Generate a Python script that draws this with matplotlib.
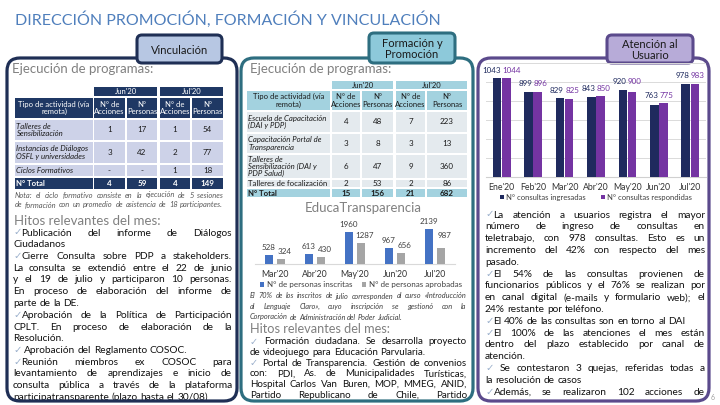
import matplotlib
matplotlib.use('Agg')
import matplotlib.pyplot as plt
from matplotlib.patches import FancyBboxPatch, Rectangle
import numpy as np

plt.rcParams['font.family'] = ['Lato', 'DejaVu Sans']

# ---- data ----
meses_usuario = ["Ene'20", "Feb'20", "Mar'20", "Abr'20", "May'20", "Jun'20", "Jul'20"]
consultas_ingresadas = [1043, 899, 829, 843, 920, 763, 978]
consultas_respondidas = [1044, 896, 825, 850, 900, 775, 983]

meses_educa = ["Mar'20", "Abr'20", "May'20", "Jun'20", "Jul'20"]
personas_inscritas = [528, 613, 1960, 967, 2139]
personas_aprobadas = [324, 430, 1287, 656, 987]

tabla_cols = ["N° de\nAcciones", "N°\nPersonas", "N° de\nAcciones", "N°\nPersonas"]

vinc_tipos = ["Talleres de\nSensibilización", "Instancias de Diálogos\nOSFL y universidades",
              "Ciclos Formativos", "N° Total"]
vinc_jun_acc = ["1", "3", "-", "4"]
vinc_jun_per = ["17", "42", "-", "59"]
vinc_jul_acc = ["1", "2", "1", "4"]
vinc_jul_per = ["54", "77", "18", "149"]

form_tipos = ["Escuela de Capacitación\n(DAI y PDP)", "Capacitación Portal de\nTransparencia",
              "Talleres de\nSensibilización (DAI y\nPDP Salud)", "Talleres de focalización", "N° Total"]
form_jun_acc = ["4", "3", "6", "2", "15"]
form_jun_per = ["48", "8", "47", "53", "156"]
form_jul_acc = ["7", "3", "9", "2", "21"]
form_jul_per = ["223", "13", "360", "86", "682"]

# colours
NAVY = '#1F2F55'
TEAL = '#2E6E80'
PURPLE = '#5B4A8C'
GRAY_T = '#808080'

fig = plt.figure(figsize=(7.2, 4.05), dpi=100)
ax = fig.add_axes([0, 0, 1, 1])
ax.set_xlim(0, 720)
ax.set_ylim(405, 0)
ax.axis('off')
renderer = fig.canvas.get_renderer()


def px_axes(x0, y0, x1, y1):
    return fig.add_axes([x0 / 720, 1 - y1 / 405, (x1 - x0) / 720, (y1 - y0) / 405])


def text_width(s, **kw):
    t = ax.text(0, 0, s, **kw)
    w = t.get_window_extent(renderer).width
    t.remove()
    return w


def paragraph(lines, x0, x1, y, dy, clip=None, justify_last=False, **kw):
    space = text_width('a a', **kw) - text_width('aa', **kw)
    for i, line in enumerate(lines):
        words = line.split(' ')
        widths = [text_width(w, **kw) for w in words]
        last = (i == len(lines) - 1) and not justify_last
        if last or len(words) == 1:
            gap = space
        else:
            gap = max((x1 - x0 - sum(widths)) / (len(words) - 1), space * 0.3)
        x = x0
        for w, wd in zip(words, widths):
            if w.startswith('✓'):
                t = ax.text(x, y, '✓', va='center', ha='left', zorder=2,
                            **{**kw, 'color': '#9AAFCB'})
                cw = text_width('✓', **kw)
                if clip is not None:
                    t.set_clip_path(clip)
                t2 = ax.text(x + cw, y, w[1:], va='center', ha='left', zorder=2, **kw)
            else:
                t2 = ax.text(x, y, w, va='center', ha='left', zorder=2, **kw)
            if clip is not None:
                t2.set_clip_path(clip)
            x += wd + gap
        y += dy
    return y


# ---- title ----
ax.text(15, 20, "DIRECCIÓN PROMOCIÓN, FORMACIÓN Y VINCULACIÓN", fontsize=11.5,
        color='#4F7FBC', va='center', ha='left')

# ---- panels ----
panels = {}
for key, (x0, x1, col) in {'v': (7, 237, NAVY), 'f': (241, 473, TEAL), 'u': (478, 709, PURPLE)}.items():
    fill = FancyBboxPatch((x0, 58), x1 - x0, 343, boxstyle="round,pad=0,rounding_size=13",
                          fc='white', ec='none', zorder=0)
    ax.add_patch(fill)
    ax.add_patch(FancyBboxPatch((x0, 58), x1 - x0, 343, boxstyle="round,pad=0,rounding_size=13",
                                fc='none', ec=col, lw=2.3, zorder=5))
    panels[key] = fill

tabs = [(137, 35, 85, 28, '#B7C7E3', NAVY, "Vinculación"),
        (369, 33, 86, 30, '#8DC9DA', TEAL, "Formación y\nPromoción"),
        (607, 35, 86, 28, '#B7ABD8', PURPLE, "Atención al\nUsuario")]
for x0, y0, w, h, fc, ec, label in tabs:
    ax.add_patch(FancyBboxPatch((x0, y0), w, h, boxstyle="round,pad=0,rounding_size=5",
                                fc=fc, ec=ec, lw=2.2, zorder=6))
    ax.text(x0 + w / 2, y0 + h / 2 + 1, label, ha='center', va='center', fontsize=8,
            color='#1A1A1A', linespacing=1.0, zorder=7)

ax.text(12, 69, "Ejecución de programas:", fontsize=9.5, color=GRAY_T, va='center', zorder=2)
ax.text(250, 69, "Ejecución de programas:", fontsize=9.5, color=GRAY_T, va='center', zorder=2)


# ---- tables ----
def draw_table(cols, h1, h2, rows, tipos, values, head_fc, head_tc, row_fc, italic_rows):
    x_jun = (cols[1][0], cols[2][1])
    x_jul = (cols[3][0], cols[4][1])
    for (a, b), lab in [(x_jun, "Jun'20"), (x_jul, "Jul'20")]:
        ax.add_patch(Rectangle((a, h1[0]), b - a, h1[1] - h1[0], fc=head_fc, ec='none', zorder=1))
        ax.text((a + b) / 2, (h1[0] + h1[1]) / 2, lab, ha='center', va='center',
                fontsize=5.5, color=head_tc, zorder=2)
    heads = ["Tipo de actividad (vía\nremota)"] + tabla_cols
    for j, (a, b) in enumerate(cols):
        ax.add_patch(Rectangle((a, h2[0]), b - a, h2[1] - h2[0], fc=head_fc, ec='none', zorder=1))
        ax.text((a + b) / 2, (h2[0] + h2[1]) / 2, heads[j], ha='center', va='center',
                fontsize=5.5, color=head_tc, linespacing=1.05, zorder=2)
    for i, (r0, r1) in enumerate(rows):
        total = (i == len(rows) - 1)
        fc = head_fc if total else row_fc
        tc = head_tc if total else '#1A1A1A'
        for j, (a, b) in enumerate(cols):
            ax.add_patch(Rectangle((a, r0), b - a, r1 - r0, fc=fc, ec='none', zorder=1))
            if j == 0:
                ax.text(a + 1.5, (r0 + r1) / 2, tipos[i], ha='left', va='center', fontsize=5.6,
                        color=tc, linespacing=1.05,
                        style='italic' if i in italic_rows else 'normal',
                        weight='bold' if total else 'normal', zorder=2)
            else:
                ax.text((a + b) / 2, (r0 + r1) / 2, values[j - 1][i], ha='center', va='center',
                        fontsize=5.8, color=tc, weight='bold' if total else 'normal', zorder=2)


draw_table([(15, 93), (94, 125), (127, 157), (160, 190), (192, 223)],
           (87, 96), (98, 118),
           [(120, 140), (142, 163), (165, 176), (178, 189)],
           vinc_tipos, [vinc_jun_acc, vinc_jun_per, vinc_jul_acc, vinc_jul_per],
           '#1F3864', 'white', '#CDD2E8', [0, 1, 2])

draw_table([(247, 330), (332, 360), (362, 393), (396, 425), (427, 467)],
           (81, 89), (91, 110),
           [(112, 132), (134, 153), (155, 178), (180, 187), (189, 197)],
           form_tipos, [form_jun_acc, form_jun_per, form_jul_acc, form_jul_per],
           '#A3D2DF', '#1A1A1A', '#E4EAEE', [0, 1, 2])

# notes
paragraph(["Nota: el ciclo formativo consiste en la ejecución de 5 sesiones",
           "de formación con un promedio de asistencia de 18 participantes."],
          15, 223, 195, 9.5, justify_last=True, fontsize=5.4, style='italic', color='#595959')

paragraph(["El 70% de los inscritos de julio corresponden al curso «Introducción",
           "al Lenguaje Claro», cuyo inscripción se gestionó con la",
           "Corporación de Administración del Poder Judicial."],
          250, 466, 296, 10.5, fontsize=5.3, style='italic', color='#404040')

# ---- hitos texts ----
ax.text(14, 221, "Hitos relevantes del mes:", fontsize=9.5, color=GRAY_T, va='center', zorder=2)
ax.text(250, 329, "Hitos relevantes del mes:", fontsize=9.2, color=GRAY_T, va='center', zorder=2)

body = dict(fontsize=7.3, color='#111111')
y = 233
for p in [["✓Publicación del informe de Diálogos", "Ciudadanos"],
          ["✓Cierre Consulta sobre PDP a stakeholders.", "La consulta se extendió entre el 22 de junio",
           "y el 19 de julio y participaron 10 personas.", "En proceso de elaboración del informe de",
           "parte de la DE."],
          ["✓Aprobación de la Política de Participación", "CPLT. En proceso de elaboración de la",
           "Resolución."],
          ["✓ Aprobación del Reglamento COSOC."],
          ["✓Reunión miembros ex COSOC para", "levantamiento de aprendizajes e inicio de",
           "consulta pública a través de la plataforma",
           "participatransparente (plazo hasta el 30/08)"]]:
    y = paragraph(p, 13, 232, y, 11.75, clip=panels['v'], **body)

y = 342
for i, p in enumerate([["✓ Formación ciudadana. Se desarrolla proyecto",
                        "de videojuego para Educación Parvularia."],
                       ["✓ Portal de Transparencia. Gestión de convenios",
                        "con: PDI, As. de Municipalidades Turísticas,",
                        "Hospital Carlos Van Buren, MOP, MMEG, ANID,",
                        "Partido Republicano de Chile, Partido"]]):
    y = paragraph(p, 250, 467, y, 10.6, clip=panels['f'], justify_last=(i == 1),
                  fontsize=7.0, color='#111111')

y = 215
for i, p in enumerate([["✓La atención a usuarios registra el mayor", "número de ingreso de consultas en",
                        "teletrabajo, con 978 consultas. Esto es un",
                        "incremento del 42% con respecto del mes", "pasado."],
                       ["✓El 54% de las consultas provienen de",
                        "funcionarios públicos y el 76% se realizan por",
                        "en canal digital (e-mails y formulario web); el",
                        "24% restante por teléfono."],
                       ["✓El 40% de las consultas son en torno al DAI"],
                       ["✓El 100% de las atenciones el mes están",
                        "dentro del plazo establecido por canal de", "atención."],
                       ["✓ Se contestaron 3 quejas, referidas todas a", "la resolución de casos"],
                       ["✓Además, se realizaron 102 acciones de"]]):
    y = paragraph(p, 485, 705, y, 11.8, clip=panels['u'], justify_last=(i == 5), **body)

ax.text(713, 397, "6", fontsize=5, color='#A0A0A0', ha='center', va='center')

# ---- Atención al Usuario chart ----
C_ING = '#1F2A5E'
C_RES = '#7434A2'
au = px_axes(486, 63, 706, 177)
au.patch.set_alpha(0)
x = np.arange(len(meses_usuario))
w = 0.27
au.bar(x - 0.145, consultas_ingresadas, w, color=C_ING, zorder=3)
au.bar(x + 0.145, consultas_respondidas, w, color=C_RES, zorder=3)
for xi, a, b in zip(x, consultas_ingresadas, consultas_respondidas):
    au.annotate(str(a), (xi - 0.02, max(a, b)), xytext=(0, 3), textcoords='offset points',
                ha='right', va='bottom', fontsize=5.8, color=C_ING)
    au.annotate(str(b), (xi + 0.02, max(a, b)), xytext=(0, 3), textcoords='offset points',
                ha='left', va='bottom', fontsize=5.8, color=C_RES)
au.set_ylim(0, 1200)
au.set_xlim(-0.5, len(x) - 0.5)
au.set_yticks(range(0, 1201, 200))
au.yaxis.grid(True, color='#DADADA', lw=0.7, zorder=0)
au.set_yticklabels([])
au.tick_params(axis='both', length=0, labelsize=6.3, colors='#333333', pad=4)
au.set_xticks(x)
au.set_xticklabels(meses_usuario)
for s in ['top', 'right', 'left']:
    au.spines[s].set_visible(False)
au.spines['bottom'].set_color('#D0D0D0')
fig.legend([Rectangle((0, 0), 1, 1, fc=C_ING), Rectangle((0, 0), 1, 1, fc=C_RES)],
           ["N° consultas ingresadas", "N° consultas respondidas"],
           loc='center', bbox_to_anchor=(596 / 720, 1 - 197 / 405), ncol=2, frameon=False,
           fontsize=5.5, handlelength=0.5, handleheight=0.5, handletextpad=0.3,
           columnspacing=2.0, labelcolor='#404040')

# ---- EducaTransparencia chart ----
ax.text(363, 208, "EducaTransparencia", fontsize=9.5, color=GRAY_T, ha='center', va='center')
C_INS = '#4472C4'
C_APR = '#A5A5A5'
ed = px_axes(255, 218, 455, 264)
ed.patch.set_alpha(0)
xe = np.arange(len(meses_educa))
ed.bar(xe - 0.15, personas_inscritas, 0.2, color=C_INS, zorder=3)
ed.bar(xe + 0.15, personas_aprobadas, 0.2, color=C_APR, zorder=3)
for xi, a, b in zip(xe, personas_inscritas, personas_aprobadas):
    ed.annotate(str(a), (xi - 0.15, a), xytext=(0, 3), textcoords='offset points',
                ha='center', va='bottom', fontsize=5.8, color='#404040')
    ed.annotate(str(b), (xi + 0.17, max(b, a * 0.6 if a > 1500 else b)), xytext=(2, 3),
                textcoords='offset points', ha='center', va='bottom', fontsize=5.8, color='#404040')
ed.set_ylim(0, 2800)
ed.set_xlim(-0.5, len(xe) - 0.5)
ed.set_yticks([])
ed.set_xticks(xe)
ed.set_xticklabels(meses_educa)
ed.tick_params(axis='x', length=0, labelsize=6.3, colors='#333333', pad=4)
for s in ['top', 'right', 'left']:
    ed.spines[s].set_visible(False)
ed.spines['bottom'].set_color('#D9D9D9')
fig.legend([Rectangle((0, 0), 1, 1, fc=C_INS), Rectangle((0, 0), 1, 1, fc=C_APR)],
           ["N° de personas inscritas", "N° de personas aprobadas"],
           loc='center', bbox_to_anchor=(361 / 720, 1 - 285 / 405), ncol=2, frameon=False,
           fontsize=5.8, handlelength=0.5, handleheight=0.5, handletextpad=0.4,
           columnspacing=1.2, labelcolor='#404040')

fig.savefig('out.png', dpi=100)
